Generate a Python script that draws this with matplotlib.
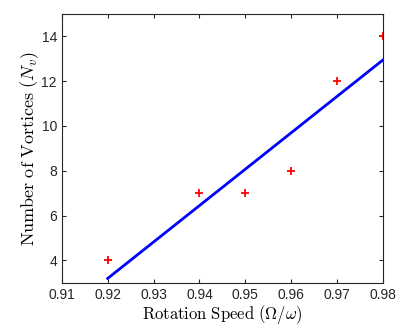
import matplotlib
matplotlib.use("Agg")
import matplotlib.pyplot as plt

# measured points
speed = [0.92, 0.94, 0.95, 0.96, 0.97, 0.98]
vortices = [4, 7, 7, 8, 12, 14]

# fitted line endpoints
fit_speed = [0.92, 0.98]
fit_vortices = [3.2, 12.95]

xticks = [0.91, 0.92, 0.93, 0.94, 0.95, 0.96, 0.97, 0.98]
yticks = [4, 6, 8, 10, 12, 14]

plt.rcParams['font.family'] = ['Liberation Sans', 'DejaVu Sans']
plt.rcParams['mathtext.fontset'] = 'cm'

fig = plt.figure(figsize=(4.15, 3.32), dpi=100)
ax = fig.add_axes([0.149, 0.148, 0.774, 0.81])

ax.plot(speed, vortices, '+', color='red', markersize=5.5, markeredgewidth=1.3)
ax.plot(fit_speed, fit_vortices, '-', color='blue', linewidth=2)

ax.set_xlim(0.91, 0.98)
ax.set_ylim(3, 15)
ax.set_xticks(xticks)
ax.set_xticklabels(['%.2f' % v for v in xticks])
ax.set_yticks(yticks)

ax.tick_params(direction='in', top=True, right=True, labelsize=10, length=3, colors='#262626')
for s in ax.spines.values():
	s.set_color('#262626')
	s.set_linewidth(0.8)

ax.set_xlabel(r'$\mathrm{Rotation\ Speed}\ (\Omega/\omega)$', fontsize=12, labelpad=1)
ax.set_ylabel(r'$\mathrm{Number\ of\ Vortices}\ (N_v)$', fontsize=13, labelpad=0)

plt.savefig('out.png', dpi=100)
